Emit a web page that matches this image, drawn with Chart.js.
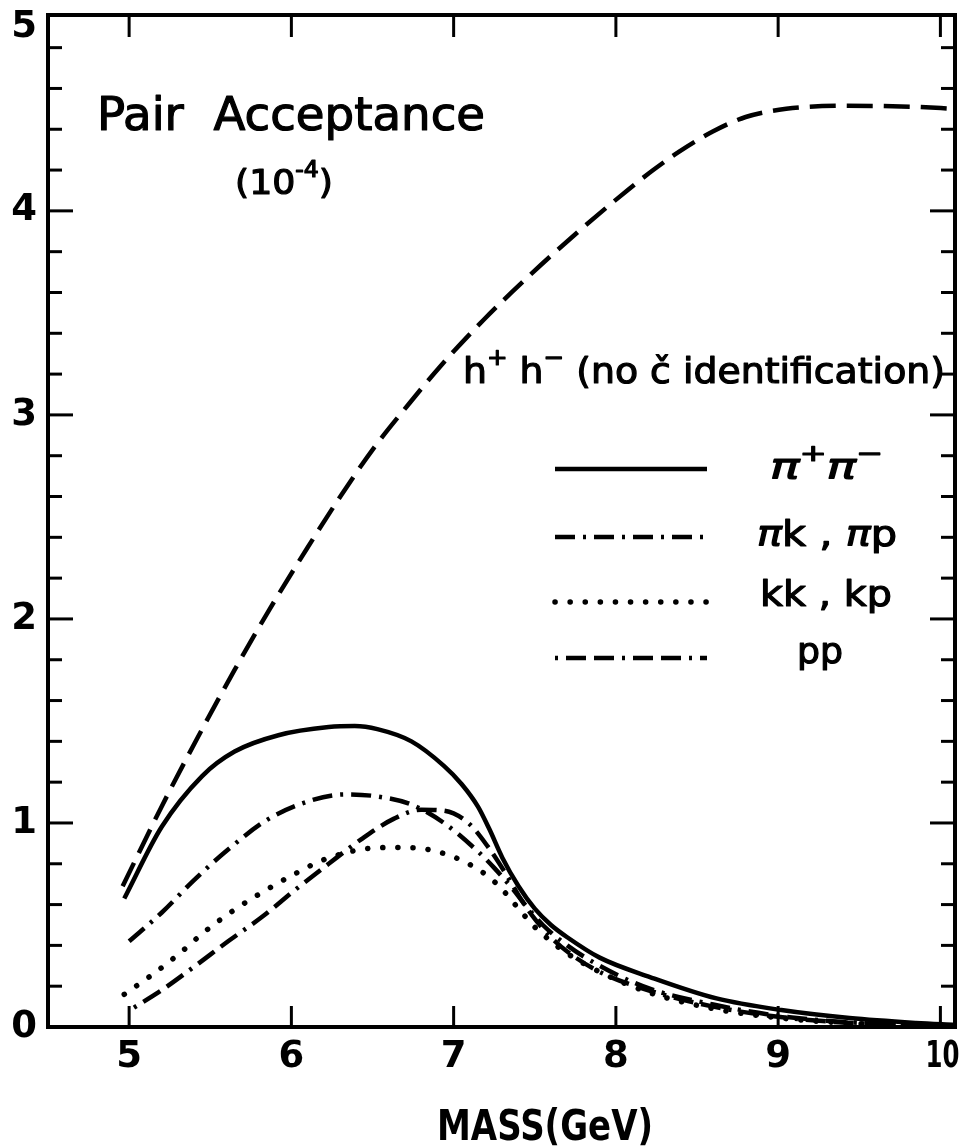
<!DOCTYPE html>
<html>
<head>
<meta charset="utf-8">
<script src="https://cdn.jsdelivr.net/npm/chart.js@4.4.1/dist/chart.umd.min.js"></script>
<style>
  body { margin: 0; background: #fff; }
  canvas { display: block; }
</style>
</head>
<body>
<canvas id="chart" width="962" height="1147"></canvas>
<script>
// axis ticks: pair mass (GeV) and acceptance (units of 10^-4)
const massTicks = [5, 6, 7, 8, 9, 10];
const accTicks = [0, 1, 2, 3, 4, 5];

// h+ h- , no Cerenkov identification
const hhMass = [4.96, 5.2, 5.45, 5.65, 5.86, 6.1, 6.31, 6.51, 6.72, 6.92, 7.19, 7.49, 7.8, 8.07, 8.23, 8.39, 8.6, 8.8, 9.05, 9.42, 9.83, 10.09];
const hhAcc = [0.69, 1.08, 1.46, 1.75, 2.04, 2.35, 2.61, 2.84, 3.05, 3.24, 3.47, 3.7, 3.92, 4.1, 4.2, 4.29, 4.39, 4.46, 4.5, 4.515, 4.51, 4.5];

// pi+ pi-
const pipiMass = [4.97, 5.2, 5.45, 5.65, 5.92, 6.23, 6.39, 6.53, 6.74, 6.94, 7.05, 7.15, 7.22, 7.3, 7.4, 7.5, 7.6, 7.7, 7.9, 8.21, 8.62, 9.02, 9.44, 9.85, 10.09];
const pipiAcc = [0.63, 0.98, 1.23, 1.35, 1.43, 1.47, 1.475, 1.46, 1.4, 1.28, 1.19, 1.08, 0.97, 0.83, 0.69, 0.58, 0.5, 0.44, 0.34, 0.245, 0.14, 0.083, 0.044, 0.02, 0.01];

// pi k , pi p
const pikMass = [5.0, 5.2, 5.4, 5.61, 5.86, 6.12, 6.33, 6.53, 6.74, 6.94, 7.15, 7.25, 7.35, 7.45, 7.55, 7.7, 7.9, 8.2, 8.6, 9.0, 9.4, 9.8, 10.09];
const pikAcc = [0.42, 0.56, 0.72, 0.87, 1.02, 1.11, 1.14, 1.13, 1.09, 1.0, 0.86, 0.78, 0.69, 0.59, 0.5, 0.4, 0.3, 0.19, 0.11, 0.055, 0.025, 0.01, 0.004];

// k k , k p
const kkMass = [4.97, 5.14, 5.31, 5.47, 5.65, 5.82, 6.02, 6.2, 6.43, 6.63, 6.84, 7.04, 7.21, 7.31, 7.4, 7.5, 7.6, 7.7, 7.9, 8.2, 8.6, 9.0, 9.4, 9.8, 10.09];
const kkAcc = [0.16, 0.255, 0.36, 0.47, 0.575, 0.66, 0.75, 0.82, 0.87, 0.88, 0.87, 0.82, 0.74, 0.665, 0.58, 0.49, 0.42, 0.36, 0.27, 0.17, 0.09, 0.045, 0.02, 0.008, 0.003];

// p p
const ppMass = [5.03, 5.2, 5.4, 5.61, 5.82, 6.02, 6.23, 6.43, 6.63, 6.8, 6.94, 7.09, 7.21, 7.33, 7.42, 7.5, 7.6, 7.7, 7.9, 8.2, 8.6, 9.0, 9.4, 9.8, 10.09];
const ppAcc = [0.095, 0.18, 0.295, 0.42, 0.54, 0.67, 0.8, 0.92, 1.02, 1.065, 1.06, 1.0, 0.885, 0.74, 0.62, 0.53, 0.44, 0.37, 0.27, 0.18, 0.1, 0.05, 0.022, 0.008, 0.003];

const pts = (xs, ys) => xs.map((x, i) => ({ x, y: ys[i] }));

function series(label, xs, ys, dash, width, cap) {
  return {
    label,
    data: pts(xs, ys),
    borderColor: "#000",
    borderWidth: width,
    borderDash: dash,
    borderCapStyle: cap || "butt",
    cubicInterpolationMode: "monotone",
    pointRadius: 0,
    fill: false
  };
}

const datasets = [
  series("hh", hhMass, hhAcc, [26, 11], 4.5),
  series("pipi", pipiMass, pipiAcc, [], 4.5),
  series("pik", pikMass, pikAcc, [20, 8, 3, 8], 4.5),
  series("kk", kkMass, kkAcc, [0.1, 15], 5.5, "round"),
  series("pp", ppMass, ppAcc, [3, 8, 20, 8, 20, 8], 4.5)
];

// text runs (sup = raised and smaller, it = oblique), squeezed to a given width
function drawRuns(ctx, runs, x, base, width, size, weight) {
  const fontOf = r => `${r.it ? "italic " : ""}${weight} ${r.sup ? size * 0.65 : size}px 'DejaVu Sans'`;
  let total = 0;
  runs.forEach(r => {
    ctx.font = fontOf(r);
    r.w = ctx.measureText(r.t).width;
    total += r.w;
  });
  ctx.save();
  ctx.translate(x, base);
  ctx.scale(width / total, 1);
  ctx.textAlign = "left";
  ctx.textBaseline = "alphabetic";
  ctx.lineWidth = 1.2;
  ctx.lineJoin = "round";
  let cx = 0;
  runs.forEach(r => {
    ctx.font = fontOf(r);
    const dy = r.sup ? -size * 0.5 : 0;
    ctx.fillText(r.t, cx, dy);
    if (weight !== "bold") ctx.strokeText(r.t, cx, dy);
    cx += r.w;
  });
  ctx.restore();
}

// centred tick label, narrowed only when wider than maxW
function drawTickLabel(ctx, text, cx, cy, maxW) {
  const w = ctx.measureText(text).width;
  const sx = Math.min(1, maxW / w);
  ctx.save();
  ctx.translate(cx, cy);
  ctx.scale(sx, 1);
  ctx.fillText(text, 0, 0);
  ctx.restore();
}

const legendRows = [
  { ds: 1, y: 469, runs: [{ t: "π", it: true }, { t: "+", sup: true }, { t: "π", it: true }, { t: "−", sup: true }], x: 770, w: 113, base: 479 },
  { ds: 2, y: 537, runs: [{ t: "π", it: true }, { t: "k , " }, { t: "π", it: true }, { t: "p" }], x: 757, w: 140, base: 546 },
  { ds: 3, y: 602, runs: [{ t: "kk , kp" }], x: 760, w: 132, base: 606 },
  { ds: 4, y: 658, runs: [{ t: "pp" }], x: 797, w: 46, base: 663 }
];

const decor = {
  id: "decor",
  afterDraw(chart) {
    const { ctx, chartArea: a, scales: { x, y } } = chart;
    ctx.save();
    ctx.fillStyle = "#000";
    ctx.strokeStyle = "#000";
    ctx.setLineDash([]);
    ctx.lineCap = "butt";

    // frame
    ctx.lineWidth = 4;
    ctx.strokeRect(a.left, a.top, a.right - a.left, a.bottom - a.top);

    // inward ticks
    ctx.lineWidth = 3;
    const seg = (x1, y1, x2, y2) => { ctx.beginPath(); ctx.moveTo(x1, y1); ctx.lineTo(x2, y2); ctx.stroke(); };
    massTicks.forEach(v => {
      const px = x.getPixelForValue(v);
      seg(px, a.bottom, px, a.bottom - 21);
      seg(px, a.top, px, a.top + 22);
    });
    for (let i = 1; i < 25; i++) {
      const py = y.getPixelForValue(i * 0.2);
      const len = i % 5 === 0 ? 25 : 14;
      seg(a.left, py, a.left + len, py);
      seg(a.right, py, a.right - len, py);
    }

    // tick labels
    ctx.font = "bold 37px 'DejaVu Sans'";
    ctx.textAlign = "center";
    ctx.textBaseline = "middle";
    accTicks.forEach(v => {
      const py = Math.max(y.getPixelForValue(v), a.top + 12);
      drawTickLabel(ctx, String(v), 24, py, 30);
    });
    massTicks.forEach(v => {
      drawTickLabel(ctx, String(v), x.getPixelForValue(v) + (v === 10 ? 2 : 0), 1057, 34);
    });

    // axis title and annotations
    drawRuns(ctx, [{ t: "MASS(GeV)" }], 437, 1140, 216, 42, "bold");
    drawRuns(ctx, [{ t: "Pair  Acceptance" }], 97, 130, 388, 46, "normal");
    drawRuns(ctx, [{ t: "(10" }, { t: "-4", sup: true }, { t: ")" }], 235, 194, 98, 34, "normal");
    drawRuns(ctx, [{ t: "h" }, { t: "+", sup: true }, { t: " h" }, { t: "−", sup: true }, { t: " (no č identification)" }], 463, 383, 482, 36, "normal");

    // legend
    legendRows.forEach(row => {
      const ds = chart.data.datasets[row.ds];
      ctx.save();
      ctx.lineWidth = ds.borderWidth;
      ctx.setLineDash(ds.borderDash);
      ctx.lineCap = ds.borderCapStyle;
      seg(555, row.y, 707, row.y);
      ctx.restore();
      drawRuns(ctx, row.runs, row.x, row.base, row.w, 36, "normal");
    });
    ctx.restore();
  }
};

new Chart(document.getElementById("chart"), {
  type: "line",
  data: { datasets },
  options: {
    responsive: false,
    animation: false,
    devicePixelRatio: 1,
    layout: { padding: { left: 48, right: 7, top: 15, bottom: 120 } },
    scales: {
      x: { type: "linear", min: 4.5, max: 10.09, display: false },
      y: { type: "linear", min: 0, max: 4.96, display: false }
    },
    plugins: { legend: { display: false }, tooltip: { enabled: false } }
  },
  plugins: [decor]
});
</script>
</body>
</html>
